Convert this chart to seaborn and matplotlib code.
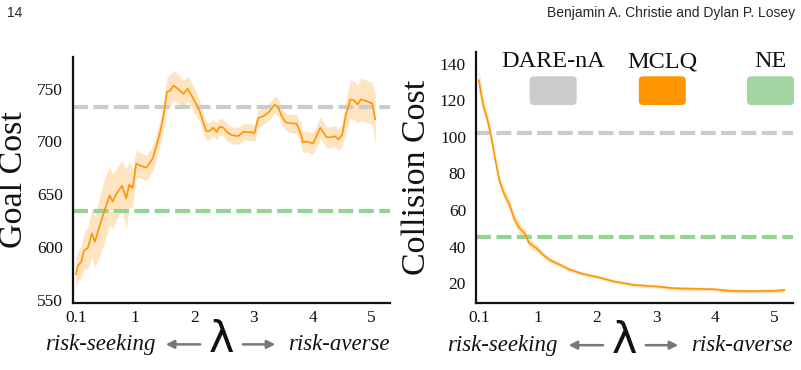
import numpy as np
import pandas as pd
import matplotlib
matplotlib.use('Agg')
import matplotlib.pyplot as plt
from matplotlib.patches import FancyBboxPatch
import seaborn as sns

# values
lam_goal = [0.0, 0.03, 0.09, 0.14, 0.2, 0.27, 0.32, 0.4, 0.48, 0.57, 0.62, 0.69, 0.78, 0.85,
            0.9, 0.96, 1.02, 1.1, 1.19, 1.3, 1.42, 1.48, 1.54, 1.59, 1.65, 1.72, 1.82, 1.89,
            2.0, 2.09, 2.2, 2.26, 2.32, 2.38, 2.43, 2.49, 2.55, 2.63, 2.74, 2.83, 2.94, 3.02,
            3.08, 3.17, 3.22, 3.28, 3.36, 3.42, 3.48, 3.55, 3.65, 3.73, 3.79, 3.84, 3.9, 4.01,
            4.13, 4.24, 4.32, 4.38, 4.44, 4.5, 4.56, 4.64, 4.7, 4.76, 4.82, 4.92, 5.01, 5.06]
goal_mclq = [574, 582, 586, 597, 599, 613, 605, 620, 634, 649, 643, 651, 658, 646,
             659, 656, 679, 677, 675, 684, 708, 724, 747, 748, 753, 750, 745, 750,
             739, 729, 710, 710, 713, 709, 714, 713, 709, 706, 705, 709, 709, 708,
             722, 724, 726, 729, 735, 732, 724, 718, 717, 717, 709, 699, 700, 698,
             713, 704, 704, 705, 702, 706, 724, 740, 739, 735, 740, 738, 736, 721]
goal_spread = [14, 14, 15, 17, 20, 22, 24, 28, 30, 28, 26, 24, 24, 28,
               22, 18, 13, 12, 12, 12, 12, 13, 14, 15, 14, 14, 13, 12,
               12, 10, 9, 8, 8, 8, 8, 8, 8, 8, 8, 8, 8, 8,
               8, 8, 8, 8, 8, 8, 8, 8, 9, 9, 10, 10, 10, 10,
               10, 10, 10, 10, 10, 11, 14, 18, 18, 18, 20, 20, 20, 24]
goal_dare = 733
goal_ne = 634

lam_coll = [0.0, 0.07, 0.15, 0.21, 0.27, 0.35, 0.44, 0.52, 0.6, 0.69, 0.78, 0.85, 0.98, 1.09,
            1.21, 1.38, 1.53, 1.77, 2.02, 2.28, 2.62, 3.01, 3.29, 3.63, 3.97, 4.25, 4.65, 4.99, 5.17]
coll_mclq = [131, 118, 109, 100, 89, 76, 68, 63, 55, 50, 47, 42, 39, 35.5,
             32.5, 30, 27.5, 25, 23.3, 21, 19.1, 18.2, 17.3, 17, 16.7, 15.9, 15.7, 15.9, 16.3]
coll_spread = [7, 4, 4, 3.5, 3.5, 3, 3, 3, 3, 3, 2.5, 2.5, 2, 1.5,
               1.5, 1.2, 1.2, 1, 1, 1, 1, 1, 1, 1, 1, 1, 1, 1, 1]
coll_dare = 102
coll_ne = 45

xticks = [0, 1, 2, 3, 4, 5]
xticklabels = ['0.1', '1', '2', '3', '4', '5']
methods = ['DARE-nA', 'MCLQ', 'NE']

c_dare = '#cbcbcb'
c_mclq = '#ff9600'
c_ne = '#a1d5a1'
c_band = '#ffe4c2'

sns.set_theme(style='white')
plt.rcParams['font.family'] = ['Liberation Serif', 'DejaVu Serif']

fig = plt.figure(figsize=(8.01, 3.70), dpi=100)
ax1 = fig.add_axes([0.0911, 0.181, 0.3958, 0.665])
ax2 = fig.add_axes([0.594, 0.181, 0.396, 0.678])


def draw(ax, lam, val, spread, dare, ne, ylabel):
    df = pd.DataFrame({'lam': lam, 'val': val, 'sp': spread})
    ax.fill_between(df['lam'], df['val'] - df['sp'], df['val'] + df['sp'],
                    color=c_band, lw=0, zorder=1)
    ax.axhline(dare, color=c_dare, lw=3, ls=(0, (3.6, 1.3)), zorder=2)
    ax.axhline(ne, color='#93d493', lw=3, ls=(0, (3.6, 1.3)), zorder=2)
    sns.lineplot(data=df, x='lam', y='val', ax=ax, color=c_mclq, lw=1.2, zorder=3)
    ax.set_xlim(-0.05, 5.31)
    ax.set_xticks(xticks)
    ax.set_xticklabels(xticklabels)
    ax.tick_params(length=0, labelsize=12.5, colors='#111111')
    ax.tick_params(axis='y', pad=7)
    ax.tick_params(axis='x', pad=5)
    ax.set_ylabel(ylabel, fontsize=24.5, labelpad=6, color='#111111')
    ax.set_xlabel('')
    sns.despine(ax=ax)
    for s in ['left', 'bottom']:
        ax.spines[s].set_color('#111111')
        ax.spines[s].set_linewidth(1.6)
    # lambda label with risk direction arrows
    ax.text(0.47, -0.15, 'λ', transform=ax.transAxes, ha='center', va='center',
            fontsize=31, family=['DejaVu Sans'], color='#111111', clip_on=False)
    ax.text(0.259, -0.17, 'risk-seeking', transform=ax.transAxes, ha='right', va='center',
            fontsize=16.5, style='italic', color='#111111')
    ax.text(0.678, -0.17, 'risk-averse', transform=ax.transAxes, ha='left', va='center',
            fontsize=16.5, style='italic', color='#111111')
    ax.annotate('', xy=(0.284, -0.168), xytext=(0.41, -0.168), xycoords='axes fraction',
                arrowprops=dict(arrowstyle='-|>', color='#777777', lw=1.8, mutation_scale=12))
    ax.annotate('', xy=(0.647, -0.168), xytext=(0.527, -0.168), xycoords='axes fraction',
                arrowprops=dict(arrowstyle='-|>', color='#777777', lw=1.8, mutation_scale=12))


draw(ax1, lam_goal, goal_mclq, goal_spread, goal_dare, goal_ne, 'Goal Cost')
ax1.set_ylim(547, 780)
ax1.set_yticks([550, 600, 650, 700, 750])

draw(ax2, lam_coll, coll_mclq, coll_spread, coll_dare, coll_ne, 'Collision Cost')
ax2.set_ylim(9.2, 146.2)
ax2.set_yticks([20, 40, 60, 80, 100, 120, 140])

# legend: labels above rounded colour boxes
for name, col, x0 in zip(methods, [c_dare, c_mclq, c_ne], [0.170, 0.514, 0.855]):
    box = FancyBboxPatch((x0, 0.789), 0.148, 0.115, transform=ax2.transAxes,
                         boxstyle='round,pad=0,rounding_size=0.015',
                         facecolor=col, edgecolor='none', clip_on=False, zorder=5)
    ax2.add_patch(box)
    ax2.text(x0 + 0.074, 0.94, name, transform=ax2.transAxes, ha='center',
             va='baseline', fontsize=17.5, color='#111111')

# page header
fig.text(0.009, 0.984, '14', ha='left', va='top', fontsize=10, family='Liberation Sans')
fig.text(0.993, 0.984, 'Benjamin A. Christie and Dylan P. Losey', ha='right', va='top',
         fontsize=10, family='Liberation Sans')

fig.savefig('out.png', dpi=100)
